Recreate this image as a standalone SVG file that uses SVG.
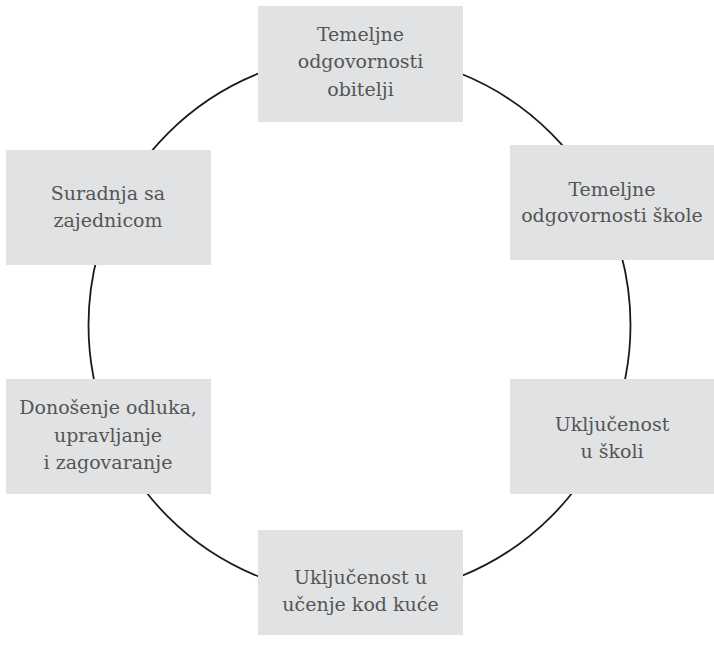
<svg xmlns="http://www.w3.org/2000/svg" width="714" height="645" viewBox="0 0 714 645">
<style>
.box{fill:#e1e2e4;stroke:none}
.lbl{font-family:"DejaVu Serif","Liberation Serif",serif;font-size:19px;fill:#555555;text-anchor:middle}
.ring{fill:none;stroke:#1a1a1a;stroke-width:1.8}
</style>
<rect width="714" height="645" fill="#ffffff"/>
<g id="connectors">
<circle class="ring" cx="359.5" cy="325" r="271"/>
</g>
<g id="node-obitelj">
<rect class="box" x="258" y="6" width="205" height="116"/>
<text class="lbl" x="360.5" y="41">Temeljne</text>
<text class="lbl" x="360.5" y="68">odgovornosti</text>
<text class="lbl" x="360.5" y="95.5">obitelji</text>
</g>
<g id="node-skola">
<rect class="box" x="510" y="145" width="204" height="115"/>
<text class="lbl" x="612" y="195.5">Temeljne</text>
<text class="lbl" x="612" y="222">odgovornosti škole</text>
</g>
<g id="node-ukljucenost-skola">
<rect class="box" x="510" y="379" width="204" height="115"/>
<text class="lbl" x="612" y="430.5">Uključenost</text>
<text class="lbl" x="612" y="457.5">u školi</text>
</g>
<g id="node-ucenje-kod-kuce">
<rect class="box" x="258" y="530" width="205" height="105"/>
<text class="lbl" x="360.5" y="583.5">Uključenost u</text>
<text class="lbl" x="360.5" y="610.5">učenje kod kuće</text>
</g>
<g id="node-odluke">
<rect class="box" x="6" y="379" width="205" height="115"/>
<text class="lbl" x="108" y="414">Donošenje odluka,</text>
<text class="lbl" x="108" y="441.5">upravljanje</text>
<text class="lbl" x="108" y="469">i zagovaranje</text>
</g>
<g id="node-zajednica">
<rect class="box" x="6" y="150" width="205" height="115"/>
<text class="lbl" x="108" y="200">Suradnja sa</text>
<text class="lbl" x="108" y="227">zajednicom</text>
</g>
</svg>
